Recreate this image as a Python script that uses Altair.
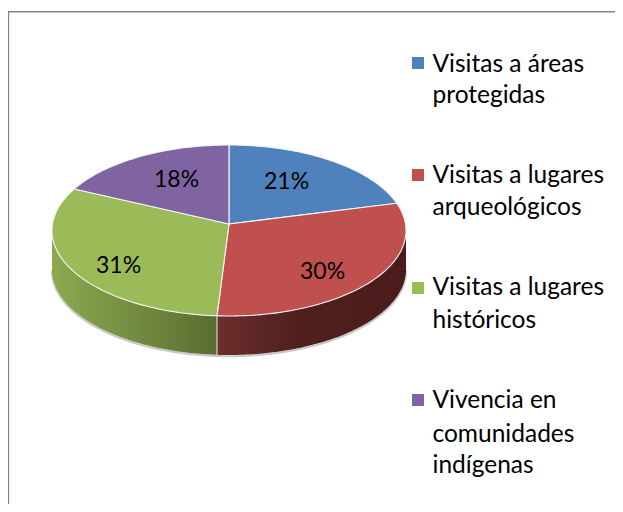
import math
import altair as alt
import pandas as pd

# ---- values ----
categories = ["Visitas a áreas protegidas", "Visitas a lugares arqueológicos",
              "Visitas a lugares históricos", "Vivencia en comunidades indígenas"]
shares = [21, 30, 31, 18]
label_text = ["21%", "30%", "31%", "18%"]
legend_lines = [["Visitas a áreas", "protegidas"],
                ["Visitas a lugares", "arqueológicos"],
                ["Visitas a lugares", "históricos"],
                ["Vivencia en", "comunidades", "indígenas"]]
colors = ["#4F81BD", "#C0504D", "#9BBB59", "#8064A2"]

# ---- layout ----
CX, CY, A, B, K, DEPTH = 229, 224, 176.5, 85, 0.076, 39
W, H = 607, 496
FONT = "Lato"
FS_LABEL = 23
FS_LEGEND = 24.5
LABEL_POS = [(264, 189), (300, 279), (96, 273), (154, 187)]
LEG_SQUARE_Y = [63, 175, 288, 400]
LEG_BASE_Y = [[72, 103], [183, 215], [295, 328], [408, 442, 473]]

def proj(deg, drop=0):
    t = math.radians(deg)
    s, c = math.sin(t), math.cos(t)
    d = 1 + K * c
    return CX + A * s / d, CY - B * c / d + drop

X = alt.X("x:Q", axis=None, scale=alt.Scale(domain=[8, 8 + W]))
Y = alt.Y("y:Q", axis=None, scale=alt.Scale(domain=[8 + H, 8]))

# slice boundaries in degrees come from the shares
bounds = [0]
for v in shares:
    bounds.append(bounds[-1] + v / sum(shares) * 360)

def sweep(a, b, n=90):
    return [a + (b - a) * i / n for i in range(n + 1)]

layers = []

# rim extremes of the projected circle
RIGHT = max(sweep(0, 180, 720), key=lambda d: proj(d)[0])
LEFT = min(sweep(180, 360, 720), key=lambda d: proj(d)[0])

def wall(a, b, stops):
    rows = []
    for d in sweep(a, b):
        x, y = proj(d)
        rows.append({"x": x, "y": y, "y2": y + DEPTH})
    rows.sort(key=lambda r: r["x"])
    grad = alt.Gradient(gradient="linear", x1=0, x2=1, y1=0, y2=0,
                        stops=[alt.GradientStop(offset=o, color=c) for o, c in stops])
    return alt.Chart(pd.DataFrame(rows)).mark_area(fill=grad, interpolate="linear").encode(
        x=X, y=Y, y2="y2:Q")

# soft shadow under the side wall
shadow = [{"x": proj(d, DEPTH + 1.2)[0], "y": proj(d, DEPTH + 1.2)[1], "o": i}
          for i, d in enumerate(sweep(RIGHT, LEFT, 200))]
layers.append(alt.Chart(pd.DataFrame(shadow)).mark_line(
    color="#B5B5B5", strokeWidth=2, opacity=0.75).encode(x=X, y=Y, order="o:Q"))

layers.append(wall(RIGHT, bounds[2], [
    (0, "#6B2E2C"), (0.45, "#4F1F1D"), (1, "#4A1C1B")]))
layers.append(wall(bounds[2], LEFT, [
    (0, "#8CA950"), (0.5, "#748C40"), (1, "#5A6C31")]))

# top face: one closed shape per slice
for i in range(len(shares)):
    pts = [(CX, CY)] + [proj(d) for d in sweep(bounds[i], bounds[i + 1])] + [(CX, CY)]
    df = pd.DataFrame([{"x": x, "y": y, "o": j} for j, (x, y) in enumerate(pts)])
    layers.append(alt.Chart(df).mark_line(
        fill=colors[i], stroke="#F4F4F4", strokeWidth=1.1, interpolate="linear-closed",
    ).encode(x=X, y=Y, order="o:Q"))

# seam between the wall colours
seam = pd.DataFrame([{"x": proj(bounds[2])[0], "y": proj(bounds[2])[1], "y2": proj(bounds[2])[1] + DEPTH}])
layers.append(alt.Chart(seam).mark_rule(color="#E8E8E8", strokeWidth=1).encode(x=X, y=Y, y2="y2:Q"))

# data labels
lab = pd.DataFrame([{"x": p[0], "y": p[1], "t": t} for p, t in zip(LABEL_POS, label_text)])
layers.append(alt.Chart(lab).mark_text(font=FONT, fontSize=FS_LABEL, align="left", baseline="alphabetic",
                                       color="#000000").encode(x=X, y=Y, text="t:N"))

# legend
sq = pd.DataFrame([{"x": 418, "y": y, "c": c} for y, c in zip(LEG_SQUARE_Y, colors)])
layers.append(alt.Chart(sq).mark_square(size=144, opacity=1).encode(
    x=X, y=Y, color=alt.Color("c:N", scale=None)))
rows = []
for lines, ys in zip(legend_lines, LEG_BASE_Y):
    for t, y in zip(lines, ys):
        rows.append({"x": 432.5, "y": y, "t": t})
layers.append(alt.Chart(pd.DataFrame(rows)).mark_text(font=FONT, fontSize=FS_LEGEND, align="left",
                                                     baseline="alphabetic", color="#000000").encode(
    x=X, y=Y, text="t:N"))

# frame: top and left edges only
layers.append(alt.Chart(pd.DataFrame([{"x": 8, "x2": 8 + W, "y": 11.7}])).mark_rule(
    color="#868686", strokeWidth=1.5).encode(x=X, x2="x2:Q", y=Y))
layers.append(alt.Chart(pd.DataFrame([{"x": 8.6, "y": 11, "y2": 8 + H}])).mark_rule(
    color="#868686", strokeWidth=1.2).encode(x=X, y=Y, y2="y2:Q"))

chart = alt.layer(*layers).properties(
    width=W, height=H, padding=0, autosize=alt.AutoSizeParams(type="none"),
    background="#FFFFFF",
).configure_view(stroke=None)

chart.save("out.html", embed_options={"renderer": "svg", "actions": False})
